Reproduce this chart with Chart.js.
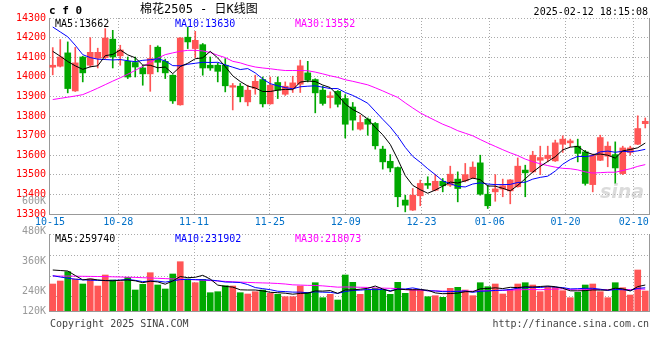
<!DOCTYPE html>
<html><head><meta charset="utf-8">
<script src="https://cdn.jsdelivr.net/npm/chart.js@4.4.1/dist/chart.umd.min.js"></script>
<style>
html,body{margin:0;padding:0;background:#fff;}
#wrap{position:relative;width:660px;height:360px;overflow:hidden;background:#fff;}
canvas{position:absolute;left:0;}
#cp{top:0;}
#cv{top:190px;}
.t{position:absolute;font-family:"DejaVu Sans Mono",monospace;font-size:10px;line-height:12px;white-space:pre;}
</style></head><body>
<div id="wrap">
<canvas id="cp" width="660" height="232"></canvas>
<canvas id="cv" width="660" height="170"></canvas>
<div class="t" id="code" style="left:49px;top:4px;font-weight:bold;font-size:11px;line-height:14px;"></div>
<div class="t" id="title" style="left:140px;top:2px;font-family:'DejaVu Sans Mono','Noto Sans CJK SC',monospace;font-size:12px;line-height:14px;color:#000;"></div>
<div class="t" id="stamp" style="right:12px;top:6px;color:#000;"></div>
<div class="t" id="pl0" style="left:55px;top:18px;color:#000;"></div>
<div class="t" id="pl1" style="left:175px;top:18px;color:#0000ff;"></div>
<div class="t" id="pl2" style="left:295px;top:18px;color:#ff00ff;"></div>
<div class="t" id="vl0" style="left:55px;top:233px;color:#000;"></div>
<div class="t" id="vl1" style="left:175px;top:233px;color:#0000ff;"></div>
<div class="t" id="vl2" style="left:295px;top:233px;color:#ff00ff;"></div>
<div class="t" id="copy" style="left:50px;top:318px;color:#444;"></div>
<div class="t" id="url" style="right:11px;top:318px;color:#444;"></div>
<div class="t" id="logo" style="left:600px;top:181px;font-family:'DejaVu Sans',sans-serif;font-size:19px;line-height:20px;font-weight:bold;font-style:italic;color:rgba(190,190,190,0.55);"></div>
</div>
<script>
const dates = ['10-15','10-16','10-17','10-18','10-21','10-22','10-23','10-24','10-25','10-28','10-29','10-30','10-31',
'11-01','11-04','11-05','11-06','11-07','11-08','11-11','11-12','11-13','11-14','11-15','11-18','11-19','11-20','11-21','11-22','11-25','11-26','11-27','11-28','11-29',
'12-02','12-03','12-04','12-05','12-06','12-09','12-10','12-11','12-12','12-13','12-16','12-17','12-18','12-19','12-20','12-23','12-24','12-25','12-26','12-27','12-30','12-31',
'01-02','01-03','01-06','01-07','01-08','01-09','01-10','01-13','01-14','01-15','01-16','01-17','01-20','01-21','01-22','01-23','01-24','01-27',
'02-05','02-06','02-07','02-10','02-11','02-12'];
const xTickLabels = ['10-15','10-28','11-11','11-25','12-09','12-23','01-06','01-20','02-10'];

const open = [14049,14054,14122,13928,14101,14059,14095,14098,14192,14107,
14079,14073,14045,14015,14151,14079,14008,13857,14202,14144,
14164,14059,14059,14059,13947,13952,13872,13940,13986,13862,
13971,13911,13943,13962,14020,13986,13932,13894,13926,13889,
13846,13733,13784,13762,13631,13569,13537,13371,13320,13393,
13456,13421,13467,13447,13478,13469,13484,13561,13401,13413,
13427,13418,13439,13524,13515,13574,13583,13571,13656,13663,
13646,13617,13450,13574,13595,13603,13506,13614,13656,13761];
const high = [14149,14190,14178,14150,14105,14200,14146,14246,14237,14161,
14101,14101,14059,14161,14158,14090,14010,14200,14254,14232,
14170,14101,14070,14093,13966,13966,13957,14008,13999,13999,
13999,13974,14003,14085,14079,13990,13952,13923,13930,13909,
13869,13804,13790,13767,13646,13603,13540,13396,13430,13473,
13490,13501,13481,13544,13515,13558,13566,13600,13447,13501,
13478,13476,13586,13549,13620,13646,13646,13677,13699,13682,
13682,13625,13605,13702,13668,13668,13646,13646,13801,13790];
const low = [14010,14050,13918,13925,13974,14050,14045,14090,14045,14059,
13991,13999,13957,13926,14025,13991,13864,13855,14144,14098,
14008,14033,13974,13923,13831,13872,13852,13911,13846,13860,
13889,13905,13920,13920,13974,13816,13855,13841,13846,13688,
13728,13728,13702,13631,13529,13515,13337,13311,13318,13342,
13430,13418,13413,13440,13362,13464,13481,13396,13328,13365,
13388,13352,13437,13388,13510,13501,13566,13568,13614,13643,
13566,13447,13413,13572,13541,13456,13501,13600,13654,13739];
const close = [14059,14101,13940,14071,14020,14125,14125,14198,14101,14137,
13999,14050,14015,14093,14074,14020,13877,14198,14178,14186,
14045,14045,14028,13954,13955,13898,13932,13977,13862,13957,
13932,13952,13969,14056,13983,13918,13864,13903,13860,13758,
13779,13767,13758,13648,13566,13535,13388,13345,13396,13456,
13447,13467,13444,13503,13430,13501,13539,13401,13342,13428,
13444,13474,13544,13510,13600,13588,13600,13663,13682,13673,
13609,13456,13600,13690,13646,13535,13637,13637,13736,13773];

const ma5 = [14130,14105,14078,14056,14038,14051,14056,14108,14114,14137,
14112,14097,14060,14059,14046,14050,14016,14052,14069,14092,
14097,14130,14096,14052,14005,13976,13953,13943,13925,13925,
13932,13936,13934,13973,13978,13976,13958,13945,13906,13861,
13833,13813,13784,13742,13704,13655,13579,13496,13446,13424,
13406,13422,13442,13463,13458,13469,13483,13475,13443,13442,
13431,13418,13446,13480,13514,13543,13568,13592,13627,13641,
13645,13617,13604,13606,13600,13585,13622,13629,13638,13662];
const ma10 = [14254,14229,14204,14161,14113,14098,14090,14088,14086,14088,
14082,14077,14084,14087,14092,14081,14057,14056,14064,14069,
14074,14073,14074,14061,14049,14037,14042,14020,13989,13965,
13954,13945,13939,13949,13952,13954,13947,13940,13940,13920,
13905,13886,13865,13824,13783,13744,13696,13640,13594,13564,
13531,13501,13469,13455,13441,13438,13453,13459,13453,13450,
13450,13451,13461,13462,13478,13487,13493,13519,13554,13578,
13594,13593,13598,13617,13621,13615,13620,13617,13622,13630];
const ma30 = [13884,13890,13896,13902,13909,13925,13942,13960,13978,13995,
14013,14033,14053,14074,14095,14113,14122,14130,14135,14135,
14132,14124,14110,14098,14079,14071,14059,14050,14045,14041,
14036,14032,14032,14032,14031,14024,14015,14005,13997,13985,
13977,13968,13959,13944,13928,13911,13895,13867,13841,13816,
13796,13777,13758,13743,13725,13712,13699,13680,13662,13645,
13628,13612,13598,13580,13567,13556,13547,13539,13533,13531,
13525,13515,13509,13511,13513,13513,13522,13531,13543,13552];

const volume = [270000,300000,393000,320000,270000,320000,250000,360000,310000,293000,
337000,210000,267000,383000,260000,220000,370000,493000,320000,283000,
317000,183000,193000,253000,250000,183000,170000,193000,210000,177000,
167000,143000,143000,250000,187000,283000,133000,167000,110000,360000,
287000,167000,210000,227000,210000,167000,287000,177000,217000,217000,
143000,153000,137000,227000,237000,210000,153000,283000,243000,270000,
170000,217000,270000,283000,260000,193000,243000,237000,203000,133000,
187000,260000,270000,193000,133000,283000,233000,160000,410000,200000];
const volMa5 = [410000,405000,400000,355000,311000,321000,311000,304000,302000,307000,
310000,302000,283000,298000,291000,268000,300000,345000,333000,337000,
357000,319000,259000,246000,239000,212000,210000,210000,201000,187000,
183000,178000,168000,176000,178000,201000,199000,204000,176000,211000,
211000,218000,227000,250000,220000,196000,220000,214000,212000,213000,
208000,181000,173000,175000,179000,193000,193000,222000,225000,232000,
224000,237000,234000,242000,240000,245000,250000,243000,227000,202000,
201000,204000,211000,209000,209000,228000,222000,200000,244000,259740];
const volMa10 = [353000,340000,328000,318000,312000,308000,306000,305000,306000,309000,
315500,306500,293500,300000,299000,289000,301000,314000,315500,314000,
312500,309500,302000,289500,288000,284500,264500,234500,223500,213000,
197500,194000,189000,188500,182500,192000,188500,186000,176000,194500,
206000,208500,215500,213000,215500,203500,219000,220500,231000,216500,
202000,200500,193500,193500,196000,200500,187000,197500,200000,205500,
208500,215000,228000,233500,236000,234500,243500,238500,234500,221000,
223000,227000,227000,218000,205500,214500,213000,205500,226500,231902];
const volMa30 = [350000,349000,349000,348000,347000,346000,345000,344000,342000,340000,
338000,336000,333000,330000,327000,324000,321000,318000,315000,312000,
308000,304000,300000,296000,292000,289000,286000,283000,281000,278600,
275200,269900,261600,259300,256500,255300,251400,244900,238300,240500,
238800,237400,235500,230300,228600,226900,224100,213600,210100,207900,
202100,201100,199300,198400,198000,198900,198300,201300,202400,205500,
205600,208100,212300,213400,215800,212800,216500,218800,221900,214400,
211000,214100,216100,215000,212400,216300,214500,213900,220400,218073];

const priceLegend = ['MA5:13662','MA10:13630','MA30:13552'];
const volLegend = ['MA5:259740','MA10:231902','MA30:218073'];
const volLabelValues = [600000,480000,360000,240000,120000];
const volLabelTexts = ['600K','480K','360K','240K','120K'];
const volGridValues = [468000,384000,300000,220000];

document.getElementById('code').textContent = 'c f 0';
document.getElementById('title').textContent = '棉花2505 - 日K线图';
document.getElementById('stamp').textContent = '2025-02-12 18:15:08';
priceLegend.forEach((t,i)=>document.getElementById('pl'+i).textContent=t);
volLegend.forEach((t,i)=>document.getElementById('vl'+i).textContent=t);
document.getElementById('copy').textContent = 'Copyright 2025 SINA.COM';
document.getElementById('url').textContent = 'http://finance.sina.com.cn';
document.getElementById('logo').textContent = 'sina';

const RED = '#ff5555', GREEN = '#00a800';
const GRID = '#aaaaaa', FRAME = '#999999';
const MONO = "'DejaVu Sans Mono', monospace";
const N = dates.length;
const colors = close.map((c,i)=> c >= open[i] ? RED : GREEN);
const tickIdx = xTickLabels.map(l => dates.indexOf(l));
const TRANSP = 'rgba(0,0,0,0)';

function lineDs(data, color, yAxisID){
  return {type:'line', data, borderColor:color, borderWidth:1, pointRadius:0, pointHoverRadius:0,
          fill:false, tension:0, order:0, xAxisID:'x', yAxisID};
}
function xGridScale(showLabels){
  return {
    type:'linear', position:'bottom', min:-0.13, max:N-1, offset:false,
    afterBuildTicks: s => { s.ticks = tickIdx.map(v=>({value:v})).concat([{value:N-1}]); },
    afterFit: s => { s.height = showLabels ? 14 : 0; },
    ticks:{display:showLabels, autoSkip:false, maxRotation:0, padding:2, color:'#0070c8',
           font:{family:MONO, size:10},
           callback: v => (v===N-1 ? '' : dates[v])},
    grid:{offset:false, drawTicks:false, color: c => (c.tick && c.tick.value===0) ? TRANSP : (c.tick && c.tick.value===N-1 ? FRAME : GRID)},
    border:{display:true, color:FRAME, dash: c => (c.tick && c.tick.value===N-1) ? [] : [1,2]}
  };
}

new Chart(document.getElementById('cp'), {
  type:'bar',
  data:{labels:dates, datasets:[
    lineDs(ma5,'#000000','y'),
    lineDs(ma10,'#0000ff','y'),
    lineDs(ma30,'#ff00ff','y'),
    {data: open.map((o,i)=>[Math.min(o,close[i]), Math.max(o,close[i])]), backgroundColor:colors,
     barThickness:6, grouped:false, order:1, xAxisID:'x', yAxisID:'y'},
    {data: low.map((l,i)=>[l, high[i]]), backgroundColor:colors,
     barThickness:1, grouped:false, order:2, xAxisID:'x', yAxisID:'y'}
  ]},
  options:{
    responsive:false, animation:false, devicePixelRatio:1,
    layout:{padding:{top:18, right:11, bottom:4, left:0}},
    plugins:{legend:{display:false}, tooltip:{enabled:false}, title:{display:false}},
    events:[],
    scales:{
      x:{type:'category', display:false, offset:true},
      xg: xGridScale(true),
      y:{type:'linear', position:'left', min:13300, max:14300,
         afterFit: s => { s.width = 49; },
         ticks:{stepSize:100, color:'#ff0000', padding:3, font:{family:MONO, size:10}, callback: v => String(v)},
         grid:{drawTicks:false, color: c => (c.tick && c.tick.value===13300) ? TRANSP : GRID},
         border:{display:true, color:FRAME, dash:[1,2]}}
    }
  }
});

const volLabelMap = {};
new Chart(document.getElementById('cv'), {
  type:'bar',
  data:{labels:dates, datasets:[
    lineDs(volMa5,'#000000','yv'),
    lineDs(volMa10,'#0000ff','yv'),
    lineDs(volMa30,'#ff00ff','yv'),
    {data: volume, backgroundColor:colors, barThickness:6, grouped:false, order:1, xAxisID:'x', yAxisID:'yv'}
  ]},
  options:{
    responsive:false, animation:false, devicePixelRatio:1,
    layout:{padding:{top:44, right:11, bottom:49, left:0}},
    plugins:{legend:{display:false}, tooltip:{enabled:false}, title:{display:false}},
    events:[],
    scales:{
      x:{type:'category', display:false, offset:true},
      xg: xGridScale(false),
      yv:{type:'linear', display:false, min:0, max:770000},
      yl:{type:'linear', position:'left', min:160000, max:468000,
          afterBuildTicks: s => {
            const t = [];
            volLabelValues.forEach((v,i)=>{ const pv = Math.max(v, s.min); volLabelMap[pv] = volLabelTexts[i]; t.push({value:pv, lab:true}); });
            volGridValues.forEach(v=>{ t.push({value:v, lab:false}); });
            s.ticks = t;
          },
          afterFit: s => { s.width = 49; },
          ticks:{autoSkip:false, color:'#999999', padding:3, font:{family:MONO, size:10},
                 callback: v => (volLabelMap[v] !== undefined ? volLabelMap[v] : '')},
          grid:{drawTicks:false, color: c => (c.tick && !c.tick.lab) ? GRID : TRANSP},
          border:{display:true, color:FRAME, dash:[1,2]}}
    }
  }
});
</script>
</body></html>
